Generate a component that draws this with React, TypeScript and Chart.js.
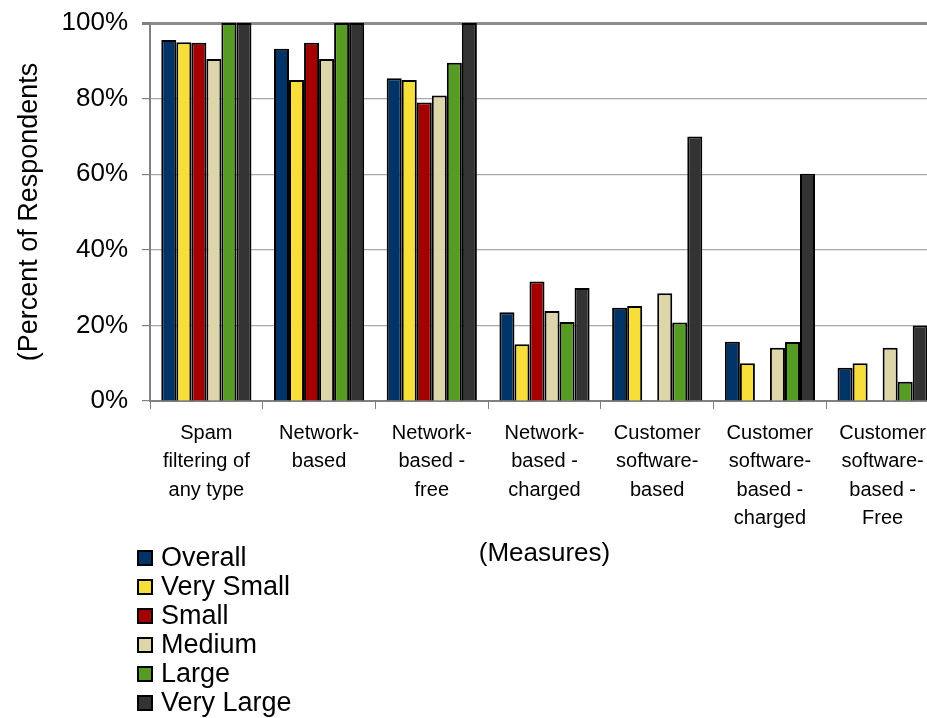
import React, { useEffect, useRef } from "react";
import { Chart, registerables } from "chart.js";

Chart.register(...registerables);

const categories: string[][] = [
  ["Spam", "filtering of", "any type"],
  ["Network-", "based"],
  ["Network-", "based -", "free"],
  ["Network-", "based -", "charged"],
  ["Customer", "software-", "based"],
  ["Customer", "software-", "based -", "charged"],
  ["Customer", "software-", "based -", "Free"],
];

const seriesNames = ["Overall", "Very Small", "Small", "Medium", "Large", "Very Large"];
const overall = [95.5, 93.2, 85.4, 23.5, 24.7, 15.7, 8.8];
const verySmall = [94.9, 84.9, 84.9, 15.0, 25.1, 10.0, 10.0];
const small = [94.8, 94.8, 79.0, 31.6, null, null, null];
const medium = [90.5, 90.5, 80.8, 23.8, 28.5, 14.1, 14.1];
const large = [100, 100, 89.5, 20.9, 20.8, 15.6, 5.1];
const veryLarge = [100, 100, 100, 29.9, 70.0, 60.1, 20.0];
const seriesColors = ["#003366", "#F7DE3A", "#A50000", "#DDD6AA", "#569C24", "#333333"];

const yTicks = [0, 20, 40, 60, 80, 100];
const yTitle = "(Percent of Respondents";
const xTitle = "(Measures)";

const FONT = "'Liberation Sans', Arial, sans-serif";

const legendPlugin = {
  id: "vertLegend",
  afterDraw(chart: any) {
    const ctx = chart.ctx;
    ctx.save();
    chart.data.datasets.forEach((ds: any, i: number) => {
      const cy = 558 + i * 29;
      ctx.fillStyle = ds.backgroundColor;
      ctx.fillRect(138, cy - 7, 14, 14);
      ctx.lineWidth = 2;
      ctx.strokeStyle = "#000";
      ctx.strokeRect(138, cy - 7, 14, 14);
      ctx.fillStyle = "#000";
      ctx.font = `27px ${FONT}`;
      ctx.textBaseline = "middle";
      ctx.textAlign = "left";
      ctx.fillText(ds.label, 161, cy + 1);
    });
    ctx.restore();
  },
};

export default function App() {
  const ref = useRef<HTMLCanvasElement | null>(null);
  useEffect(() => {
    if (!ref.current) return;
    const values = [overall, verySmall, small, medium, large, veryLarge];
    const chart = new Chart(ref.current, {
      type: "bar",
      data: {
        labels: categories,
        datasets: values.map((v, i) => ({
          label: seriesNames[i],
          data: v as any,
          backgroundColor: seriesColors[i],
          borderColor: "#000",
          borderWidth: 2,
          categoryPercentage: 0.8,
          barPercentage: 1.0,
        })),
      },
      options: {
        responsive: false,
        animation: false,
        layout: { padding: { top: 23, right: 6, left: 0, bottom: 0 } },
        plugins: {
          legend: { display: false },
          tooltip: { enabled: false },
        },
        scales: {
          x: {
            grid: { drawOnChartArea: false, drawTicks: true, tickLength: 8, color: "#808080", offset: true },
            border: { display: true, color: "#808080", width: 2 },
            ticks: {
              color: "#000",
              font: { family: FONT, size: 20, lineHeight: 1.42 },
              padding: 10,
              maxRotation: 0,
              autoSkip: false,
            },
            title: {
              display: true,
              text: xTitle,
              color: "#000",
              font: { family: FONT, size: 26 },
              padding: { top: 0, bottom: 149 },
            },
            afterFit(scale: any) {
              scale.height = 317;
            },
          },
          y: {
            min: 0,
            max: 100,
            afterBuildTicks(scale: any) {
              scale.ticks = yTicks.map((v) => ({ value: v }));
            },
            grid: {
              color: (c: any) => (c.tick && c.tick.value === 100 ? "#8c8c8c" : "#a8a8a8"),
              lineWidth: (c: any) => (c.tick && c.tick.value === 100 ? 3 : 1.2),
              tickLength: 8,
              tickColor: "#808080",
            },
            border: { display: true, color: "#808080", width: 2 },
            ticks: {
              color: "#000",
              font: { family: FONT, size: 26 },
              padding: 14,
              callback: (v: any) => `${v}%`,
            },
            title: {
              display: true,
              text: yTitle,
              color: "#000",
              font: { family: FONT, size: 27 },
              padding: { top: 13, bottom: 0 },
            },
            afterFit(scale: any) {
              scale.width = 150;
              scale.paddingTop = 0;
              scale.paddingBottom = 0;
            },
          },
        },
      },
      plugins: [legendPlugin],
    });
    return () => chart.destroy();
  }, []);
  return (
    <div style={{ position: "fixed", left: 0, top: 0, width: 927, height: 718, overflow: "hidden", background: "#fff" }}>
      <canvas ref={ref} width={945} height={718} style={{ display: "block" }} />
    </div>
  );
}
